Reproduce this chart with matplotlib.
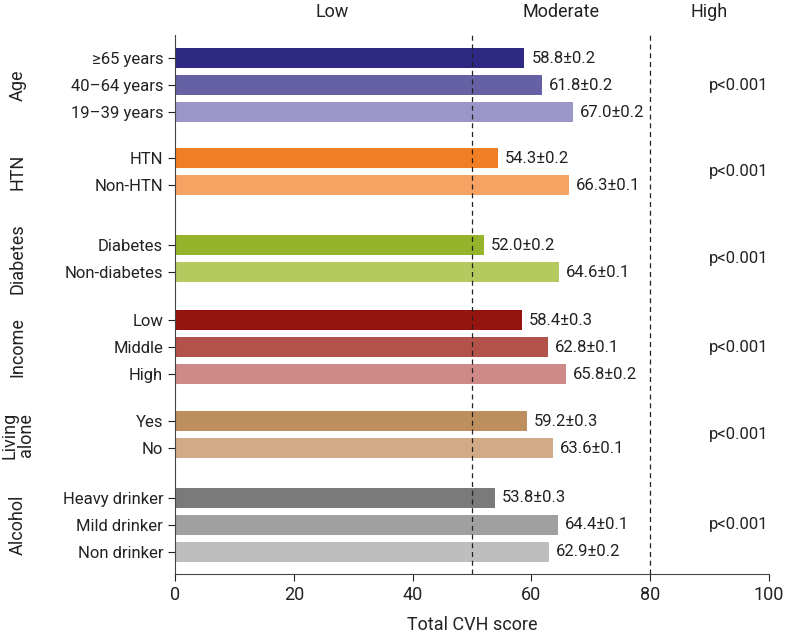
import matplotlib.pyplot as plt
import numpy as np

plt.rcParams['font.family'] = ['Roboto', 'DejaVu Sans']

# Adatok
groups = ['Age', 'HTN', 'Diabetes', 'Income', 'Living\nalone', 'Alcohol']
labels = [
    ['≥65 years', '40–64 years', '19–39 years'],
    ['HTN', 'Non-HTN'],
    ['Diabetes', 'Non-diabetes'],
    ['Low', 'Middle', 'High'],
    ['Yes', 'No'],
    ['Heavy drinker', 'Mild drinker', 'Non drinker'],
]
means = [
    [58.8, 61.8, 67.0],
    [54.3, 66.3],
    [52.0, 64.6],
    [58.4, 62.8, 65.8],
    [59.2, 63.6],
    [53.8, 64.4, 62.9],
]
errs = [
    [0.2, 0.2, 0.2],
    [0.2, 0.1],
    [0.2, 0.1],
    [0.3, 0.1, 0.2],
    [0.3, 0.1],
    [0.3, 0.1, 0.2],
]
p_values = ['p<0.001'] * 6
colors = [
    ['#2e2a84', '#6660a4', '#9a96c8'],
    ['#f07e24', '#f5a262'],
    ['#95b42b', '#b4ca5f'],
    ['#94150f', '#b3514b', '#ce8a86'],
    ['#bd8e5e', '#d1ab88'],
    ['#7a7a7a', '#a0a0a0', '#bebebe'],
]
gaps = [1.7, 2.23, 1.78, 1.74, 1.82]

fig = plt.figure(figsize=(7.86, 6.38), dpi=100)
ax = fig.add_axes([0.2226, 0.1003, 0.7558, 0.8447])

yticks, yticklabels = [], []
y = 0.0
for gi, g in enumerate(groups):
    ys = []
    for li, lab in enumerate(labels[gi]):
        ys.append(y)
        ax.barh(y, means[gi][li], height=0.74, color=colors[gi][li], zorder=2)
        ax.text(means[gi][li] + 1.2, y, f'{means[gi][li]:.1f}±{errs[gi][li]:.1f}',
                va='center', ha='left', fontsize=12, color='#222222')
        yticks.append(y)
        yticklabels.append(lab)
        y += 1
    mid = (ys[0] + ys[-1]) / 2
    ax.text(94.8, mid, p_values[gi], va='center', ha='center', fontsize=12, color='#222222')
    # csoport címke
    ax.text(-26.5, mid, g, rotation=90, va='center', ha='center', fontsize=13,
            color='#222222', linespacing=0.9)
    if gi < len(gaps):
        y += gaps[gi] - 1

ax.set_yticks(yticks)
ax.set_yticklabels(yticklabels, fontsize=12, color='#222222')
ax.set_ylim(19.1, -0.85)
ax.set_xlim(0, 100)
ax.set_xticks(np.arange(0, 101, 20))
ax.tick_params(axis='x', labelsize=13, length=5, colors='#222222')
ax.tick_params(axis='y', length=5, colors='#222222')

for xv in [50, 80]:
    ax.axvline(xv, color='#222222', linestyle=(0, (4, 3)), linewidth=0.9, zorder=3)

for xv, t in zip([26.5, 65, 90], ['Low', 'Moderate', 'High']):
    ax.text(xv, -1.7, t, ha='center', va='center', fontsize=13, color='#222222', clip_on=False)

ax.spines['top'].set_visible(False)
ax.spines['right'].set_visible(False)
ax.spines['left'].set_color('#444444')
ax.spines['bottom'].set_color('#444444')

ax.set_xlabel('Total CVH score', fontsize=13, color='#222222', labelpad=9)

fig.savefig('out.png', dpi=100)
